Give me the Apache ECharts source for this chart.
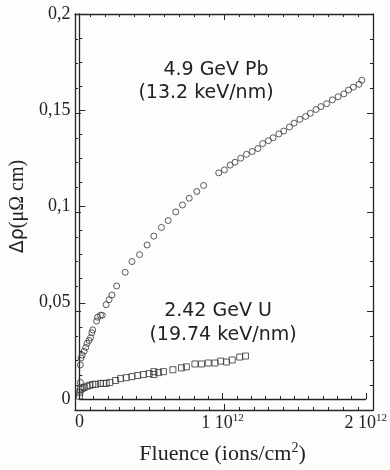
<!DOCTYPE html>
<html>
<head>
<meta charset="utf-8">
<script src="https://cdn.jsdelivr.net/npm/echarts@6/dist/echarts.min.js"></script>
</head>
<body style="margin:0;background:#fdfdfb">
<div id="chart" style="width:390px;height:470px"></div>
<script>
// Data (fluence in units of 1e12 ions/cm2, resistivity change in µΩ cm)

var pbFluence = [
    0.007, 0.007, 0.011, 0.02, 0.033, 0.045, 0.053, 0.067, 0.078, 0.087, 0.093,
    0.12, 0.127, 0.147, 0.16, 0.187, 0.207, 0.227, 0.26, 0.32, 0.367, 0.42,
    0.473, 0.52, 0.573, 0.62, 0.673, 0.72, 0.767, 0.82, 0.867, 0.973, 1.013,
    1.053, 1.087, 1.127, 1.167, 1.207, 1.247, 1.28, 1.32, 1.353, 1.393, 1.427,
    1.467, 1.5, 1.54, 1.58, 1.613, 1.653, 1.687, 1.727, 1.767, 1.807, 1.847,
    1.88, 1.913, 1.953, 1.973
];
var pbDeltaRho = [
    0.0086, 0.0177, 0.0213, 0.0228, 0.0248, 0.0268, 0.0289, 0.0304, 0.0319, 0.0344, 0.0359,
    0.0405, 0.0425, 0.0435, 0.0435, 0.049, 0.0516, 0.054, 0.0587, 0.0658, 0.0714, 0.075,
    0.08, 0.0846, 0.0891, 0.0927, 0.0972, 0.1008, 0.1043, 0.1078, 0.1109, 0.1175, 0.119,
    0.1215, 0.123, 0.1251, 0.1271, 0.1286, 0.1301, 0.1327, 0.1342, 0.1357, 0.1377, 0.1392,
    0.1413, 0.1433, 0.1453, 0.1468, 0.1484, 0.1504, 0.1519, 0.1534, 0.1554, 0.157, 0.1585,
    0.1605, 0.162, 0.1635, 0.1656
];

var uFluence = [
    0.0, 0.003, 0.007, 0.02, 0.033, 0.053, 0.073, 0.093, 0.113, 0.147, 0.167,
    0.187, 0.213, 0.253, 0.287, 0.327, 0.367, 0.407, 0.447, 0.487, 0.52, 0.52,
    0.553, 0.587, 0.653, 0.713, 0.747, 0.807, 0.853, 0.9, 0.947, 0.987, 1.027,
    1.067, 1.12, 1.16
];
var uDeltaRho = [
    0.0015, 0.0035, 0.005, 0.0056, 0.006, 0.0066, 0.0071, 0.0076, 0.0076, 0.0081, 0.0081,
    0.0081, 0.0086, 0.0096, 0.0106, 0.0111, 0.0116, 0.0122, 0.0127, 0.0132, 0.0142, 0.0127,
    0.0137, 0.0142, 0.0152, 0.0162, 0.0167, 0.0182, 0.0182, 0.0187, 0.0187, 0.0197, 0.0192,
    0.0203, 0.0218, 0.0223
];

var xTickLabels = { 0: '0', 1: '1 10{sup|12}', 2: '2 10{sup|12}' };

function pairs(xs, ys) {
    return xs.map(function(x, i) { return [x * 1e12, ys[i]]; });
}

var ink = '#262626';
var serif = '"Liberation Serif", "DejaVu Serif", serif';
var sans = '"DejaVu Sans", Verdana, sans-serif';
var gridBox = { left: 75, right: 17, top: 14, bottom: 60 };

// fresh line/tick objects for every axis
function mk(extra, minorSplit) {
    var a = {
        axisLine: { show: true, onZero: false, lineStyle: { color: ink, width: 1.3 } },
        axisTick: { show: true, inside: true, length: 6, lineStyle: { color: ink, width: 1 } },
        splitLine: { show: false }
    };
    Object.assign(a, extra);
    a.minorTick = { show: true, splitNumber: minorSplit, length: 3, lineStyle: { color: ink, width: 1 } };
    return a;
}
function xRange(extra) { return Object.assign({ type: 'value', min: 0, max: 2e12, interval: 1e12 }, extra); }
function yRange(extra) { return Object.assign({ type: 'value', min: 0, max: 0.2, interval: 0.05 }, extra); }

// frame-only axes on an overlaid grid, just for the ticks
var frameX = ['bottom', 'top'].map(function(p) {
    return mk(xRange({ gridIndex: 1, position: p, axisLabel: { show: false } }), 10);
});
var frameY = ['left', 'right'].map(function(p) {
    return mk(yRange({ gridIndex: 1, position: p, axisLabel: { show: false } }), 4);
});

var xMain = mk(xRange({
    gridIndex: 0, position: 'bottom',
    axisLabel: {
        margin: 14,
        fontFamily: serif, fontSize: 18, color: '#222',
        formatter: function(v) { return xTickLabels[Math.round(v / 1e12)]; },
        rich: {
            sup: { fontFamily: serif, fontSize: 11, color: '#222', verticalAlign: 'top', padding: [0, 0, 10, 0] }
        }
    },
    name: 'Fluence (ions/cm{sup|2})',
    nameLocation: 'middle',
    nameGap: 42,
    nameTextStyle: {
        fontFamily: serif, fontSize: 22, color: '#222',
        rich: { sup: { fontFamily: serif, fontSize: 14, color: '#222', padding: [0, 0, 12, 0] } }
    }
}), 10);

var yMain = mk(yRange({
    gridIndex: 0, position: 'left',
    axisLabel: {
        margin: 9,
        fontFamily: serif, fontSize: 18, color: '#222',
        formatter: function(v) { return v === 0 ? '0' : String(+v.toFixed(2)).replace('.', ','); }
    },
    name: '{a|Δρ}{b|(μΩ cm)}',
    nameLocation: 'middle',
    nameRotate: 90,
    nameGap: 50,
    nameTextStyle: {
        rich: {
            a: { fontFamily: sans, fontSize: 19, color: '#222' },
            b: { fontFamily: serif, fontSize: 20, color: '#222' }
        }
    }
}), 4);

function note(text, cx, cy) {
    return {
        text: text, left: cx, top: cy - 11, textAlign: 'center', padding: 0,
        textStyle: { fontFamily: sans, fontSize: 19, fontWeight: 'normal', color: '#222' }
    };
}

var chart = echarts.init(document.getElementById('chart'));

chart.setOption({
    animation: false,
    backgroundColor: '#fdfdfb',
    grid: [Object.assign({}, gridBox), Object.assign({}, gridBox)],
    xAxis: [xMain, frameX[0], frameX[1]],
    yAxis: [yMain, frameY[0], frameY[1]],
    title: [
        note('4.9 GeV Pb', 216, 72),
        note('(13.2 keV/nm)', 206, 95),
        note('2.42 GeV U', 218, 313),
        note('(19.74 keV/nm)', 223, 337)
    ],
    series: [
        {
            name: '4.9 GeV Pb',
            type: 'scatter',
            symbol: 'circle',
            symbolSize: 6,
            itemStyle: { color: 'rgba(0,0,0,0)', borderColor: '#333', borderWidth: 1 },
            data: pairs(pbFluence, pbDeltaRho)
        },
        {
            name: '2.42 GeV U',
            type: 'scatter',
            symbol: 'rect',
            symbolSize: 6,
            itemStyle: { color: 'rgba(0,0,0,0)', borderColor: '#333', borderWidth: 1 },
            data: pairs(uFluence, uDeltaRho)
        }
    ]
});
</script>
</body>
</html>
